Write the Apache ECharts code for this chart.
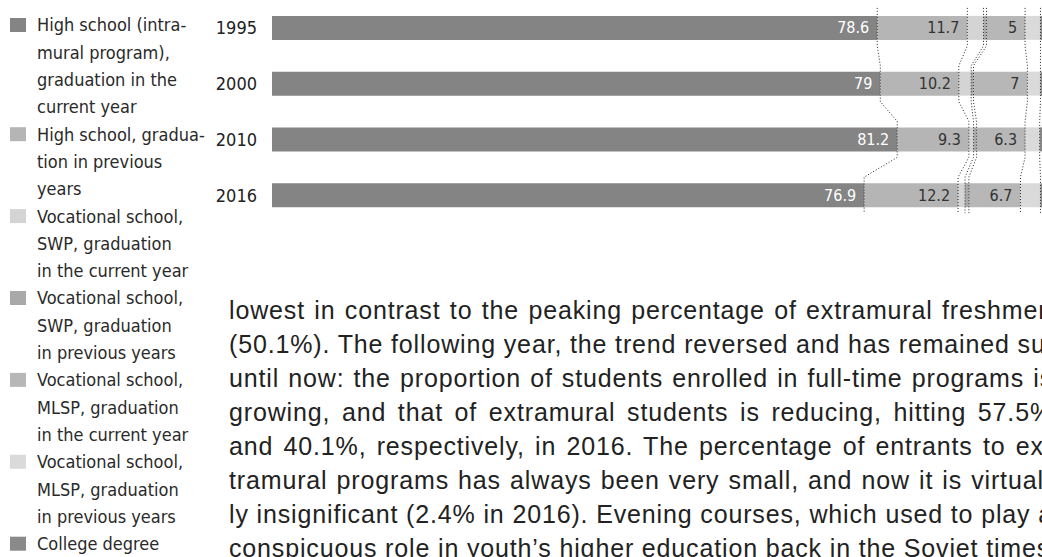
<!DOCTYPE html>
<html>
<head>
<meta charset="utf-8">
<script src="https://cdn.jsdelivr.net/npm/echarts@6/dist/echarts.min.js"></script>
<style>
  html, body { margin: 0; padding: 0; background: #fff; }
  #page { position: relative; width: 1042px; height: 557px; overflow: hidden; }
  #chart { position: absolute; left: 0; top: 0; width: 1042px; height: 557px; }
  #text { position: absolute; left: 229px; top: 293px; width: 824px;
    font-family: "Liberation Sans", Arial, sans-serif; font-size: 25px; color: #222;
    line-height: 34px; letter-spacing: 0.85px; }
  #text div { white-space: nowrap; text-align: justify; text-align-last: justify; }
</style>
</head>
<body>
<div id="page">
  <div id="chart"></div>
  <div id="text"></div>
</div>
<script>
// categories
var years = ['1995', '2000', '2010', '2016']
// shares, % (right part of the bars is cut off)
var hsCurrent = [78.6, 79, 81.2, 76.9]
var hsPrevious = [11.7, 10.2, 9.3, 12.2]
var swpCurrent = [2.1, 1.6, 0.6, 0.9]
var swpPrevious = [0.4, 0.3, 0.4, 0.5]
var mlspCurrent = [5, 7, 6.3, 6.7]
var mlspPrevious = [2.0, 1.7, 1.9, 2.6]
var college = [0.2, 0.2, 0.3, 0.2]

var legendLabels = [
  'High school (intra-\nmural program),\ngraduation in the\ncurrent year',
  'High school, gradua-\ntion in previous\nyears',
  'Vocational school,\nSWP, graduation\nin the current year',
  'Vocational school,\nSWP, graduation\nin previous years',
  'Vocational school,\nMLSP, graduation\nin the current year',
  'Vocational school,\nMLSP, graduation\nin previous years',
  'College degree'
]
var colors = ['#848484', '#b5b5b5', '#d4d4d4', '#a9a9a9', '#b7b7b7', '#dadada', '#8a8a8a']
var labelled = [true, true, false, false, true, false, false]

var bodyLines = [
  'lowest in contrast to the peaking percentage of extramural freshmen',
  '(50.1%). The following year, the trend reversed and has remained such',
  'until now: the proportion of students enrolled in full-time programs is',
  'growing, and that of extramural students is reducing, hitting 57.5%',
  'and 40.1%, respectively, in 2016. The percentage of entrants to ex-',
  'tramural programs has always been very small, and now it is virtual-',
  'ly insignificant (2.4% in 2016). Evening courses, which used to play a',
  'conspicuous role in youth\u2019s higher education back in the Soviet times,'
]

var narrow = '"Liberation Sans Narrow", "DejaVu Sans Condensed", "Arial Narrow", sans-serif'
var stacks = [hsCurrent, hsPrevious, swpCurrent, swpPrevious, mlspCurrent, mlspPrevious, college]

// body text
var textBox = document.getElementById('text')
bodyLines.forEach(function (l) {
  var d = document.createElement('div')
  d.textContent = l
  textBox.appendChild(d)
})

function cum (i, k) {
  var s = 0
  for (var j = 0; j < k; j++) s += stacks[j][i]
  return s
}

var series = stacks.map(function (arr, idx) {
  return {
    name: legendLabels[idx].replace(/\n/g, ' '),
    type: 'bar',
    stack: 'all',
    barWidth: 24,
    data: arr,
    itemStyle: { color: colors[idx] },
    label: {
      show: labelled[idx],
      position: 'insideRight',
      distance: 8,
      fontFamily: narrow,
      fontSize: 16,
      color: idx === 0 ? '#fff' : '#333'
    },
    silent: true,
    animation: false
  }
})

// dotted series lines between the bars
var boundaries = []
for (var k = 1; k < stacks.length; k++) boundaries.push([k, 0])
series.push({
  type: 'custom',
  data: boundaries,
  silent: true,
  clip: false,
  z: 10,
  animation: false,
  renderItem: function (params, api) {
    var k = api.value(0)
    var pts = []
    for (var i = 0; i < years.length; i++) {
      var p = api.coord([cum(i, k), i])
      var top = i === 0 ? 20 : 18
      pts.push([p[0], p[1] - top])
      pts.push([p[0], p[1] + 18])
    }
    return {
      type: 'polyline',
      shape: { points: pts },
      style: { stroke: '#222', lineWidth: 1, lineDash: [1, 2], fill: null }
    }
  }
})

// legend drawn as graphic items (icon aligned with first text line)
var graphics = []
var lineH = 27.3
var line = 0
legendLabels.forEach(function (txt, idx) {
  var cy = 25 + line * lineH
  graphics.push({
    type: 'rect', left: 10, top: cy - 7,
    shape: { width: 16, height: 14 },
    style: { fill: colors[idx] }
  })
  graphics.push({
    type: 'text', left: 37, top: cy - lineH / 2,
    style: {
      text: txt, fill: '#2a2a2a', font: '18px ' + narrow,
      lineHeight: lineH, verticalAlign: 'top'
    }
  })
  line += txt.split('\n').length
})

var myChart = echarts.init(document.getElementById('chart'), null, { renderer: 'svg' })
myChart.setOption({
  backgroundColor: 'transparent',
  animation: false,
  grid: { left: 272, right: -13, top: 0, height: 223, containLabel: false },
  xAxis: { type: 'value', min: 0, max: 100, show: false },
  yAxis: {
    type: 'category',
    data: years,
    inverse: true,
    axisLine: { show: false },
    axisTick: { show: false },
    axisLabel: { margin: 15, fontFamily: narrow, fontSize: 18, color: '#222' }
  },
  graphic: graphics,
  series: series
})
</script>
</body>
</html>
